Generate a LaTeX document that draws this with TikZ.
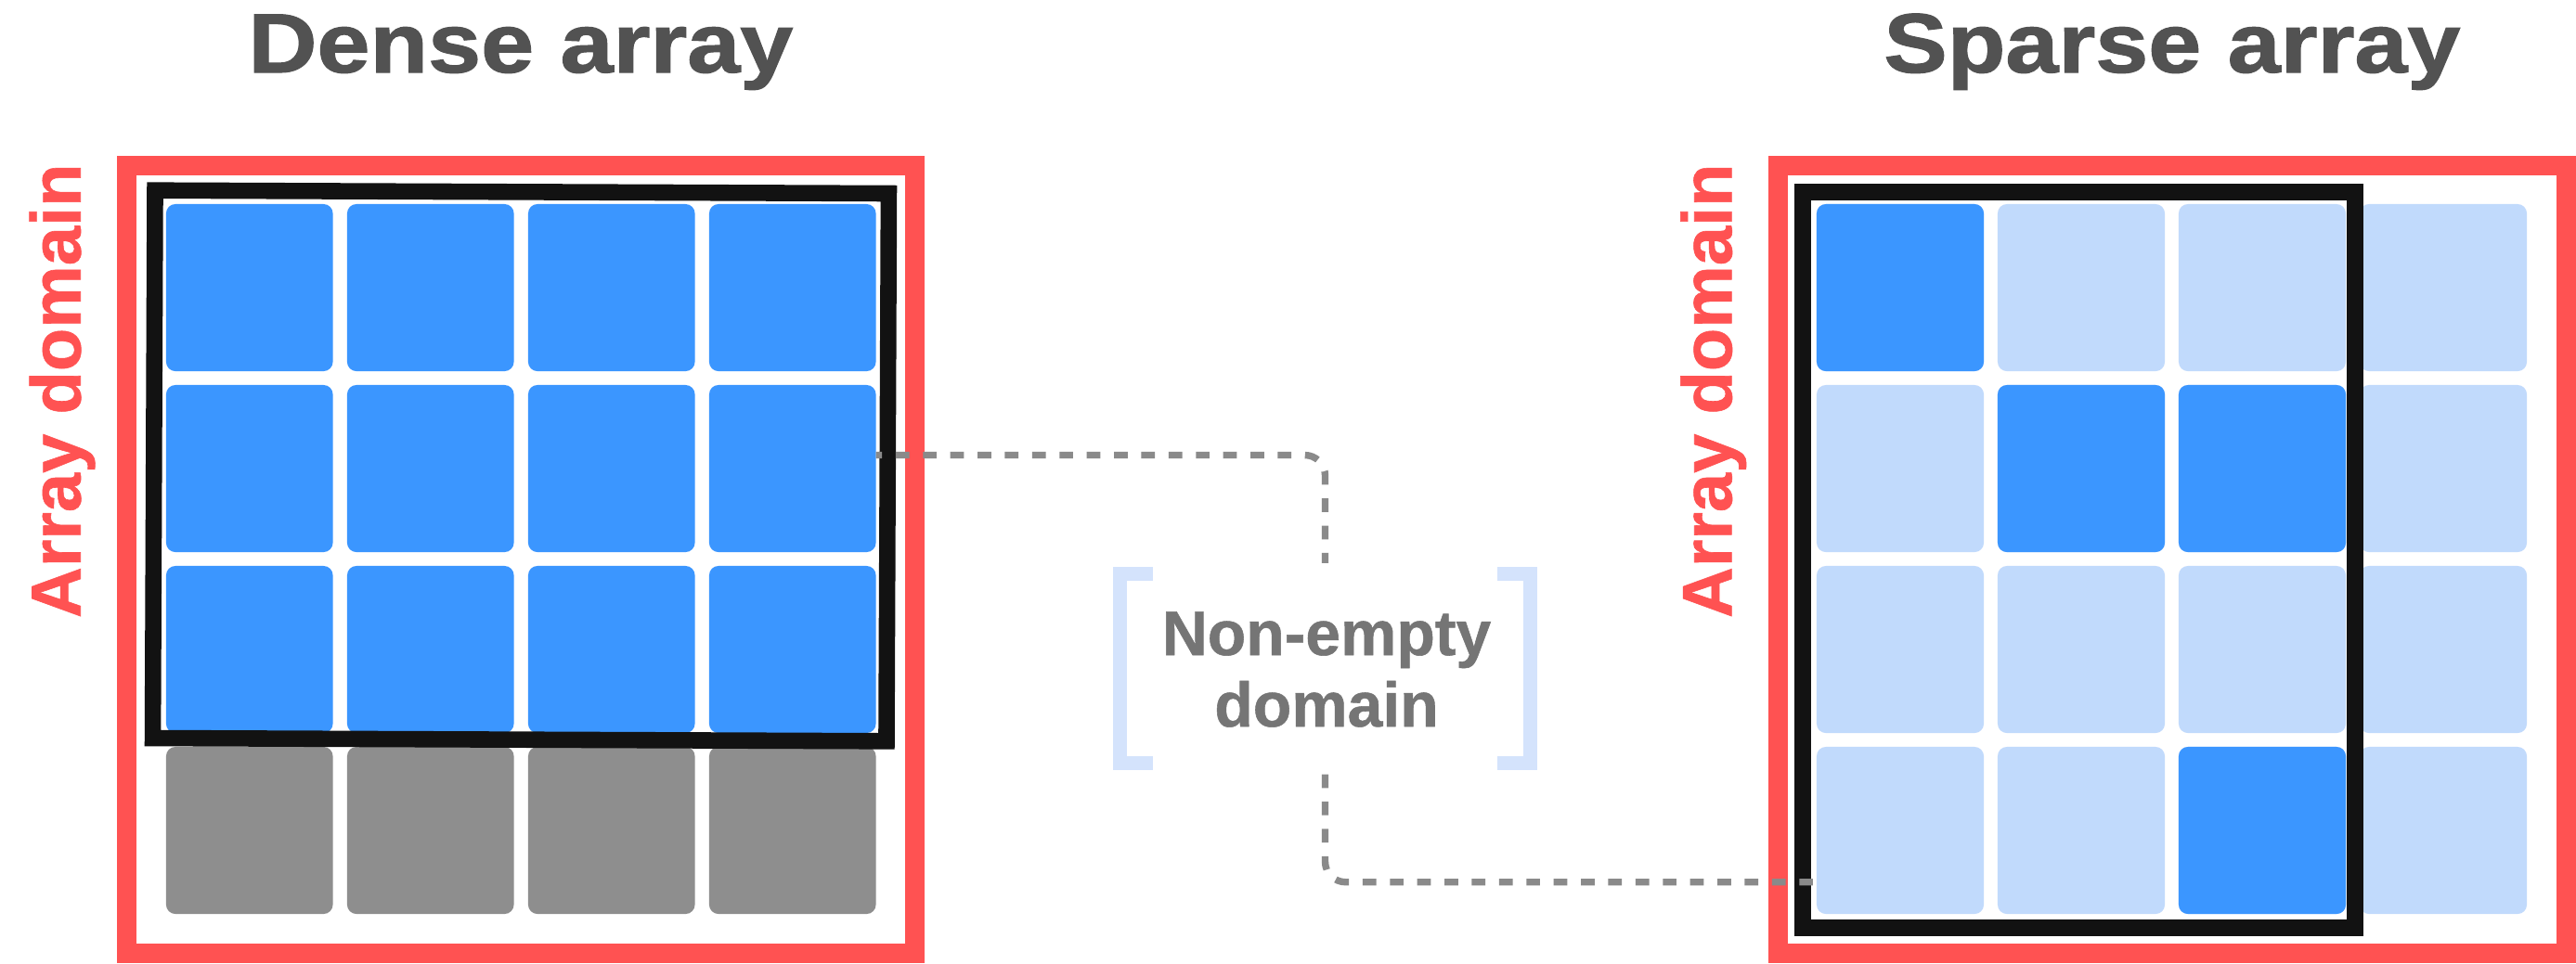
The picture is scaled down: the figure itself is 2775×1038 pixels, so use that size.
\documentclass[tikz,border=0pt]{standalone}
\usepackage{fontspec}
\usepackage{graphicx}
\setmainfont{Liberation Sans}
\newfontfamily\heavyfont[FakeBold=1.2]{Liberation Sans Bold}
\newfontfamily\midfont[FakeBold=0.8]{Liberation Sans Bold}
\usetikzlibrary{calc}
\definecolor{redc}{HTML}{FF5252}
\definecolor{bluec}{HTML}{3B96FF}
\definecolor{lightc}{HTML}{C1DAFC}
\definecolor{grayc}{HTML}{8E8E8E}
\definecolor{framec}{HTML}{121212}
\definecolor{titlec}{HTML}{525252}
\definecolor{labelc}{HTML}{757575}
\definecolor{dashc}{HTML}{8A8A8A}
\definecolor{brackc}{HTML}{D4E3FC}
\begin{document}
\begin{tikzpicture}[x=0.01cm,y=-0.01cm,
  cell/.style={inner sep=0pt, outer sep=0pt, minimum width=1.795cm, minimum height=1.8cm, rounded corners=0.1cm},
  domainbox/.style={draw=redc, line width=5.97pt, inner sep=0pt, outer sep=0pt, minimum width=8.49cm, minimum height=8.49cm},
  nedbox/.style={draw=framec, line width=5pt, inner sep=0pt, outer sep=0pt, miter limit=10},
  titletext/.style={inner sep=0pt, text=titlec, font=\fontsize{25.8pt}{30pt}\heavyfont},
  domtext/.style={inner sep=0pt, text=redc, font=\fontsize{21.6pt}{26pt}\midfont},
  labtext/.style={inner sep=0pt, text=labelc, font=\fontsize{19.3pt}{23pt}\midfont},
  conn/.style={draw=dashc, line width=2.1pt, dash pattern=on 4.18pt off 4.18pt, rounded corners=0.22cm},
  bracket/.style={draw=brackc, line width=4.27pt, miter limit=10}
]
\useasboundingbox (0,0) rectangle (2775,1038);
\fill[white] (0,0) rectangle (2775,1038);

% titles
\node[titletext, anchor=base] (dtitle) at (561,78) {\scalebox{1.13}[1]{Dense array}};
\node[titletext, anchor=base] (stitle) at (2340,78) {\scalebox{1.13}[1]{Sparse array}};

% array domain boxes
\node[domainbox] (dred) at (561,603) {};
\node[domainbox] (sred) at (2340,603) {};

% array domain labels
\node[domtext, rotate=90, anchor=base west] (dlab) at (86.7,666.7) {Array domain};
\node[domtext, rotate=90, anchor=base west] (slab) at (1865.4,666.7) {Array domain};

% dense cells
\foreach \r in {0,1,2,3} {
  \foreach \c in {0,1,2,3} {
    \ifnum\r=3
      \node[cell, fill=grayc] (d\r\c) at ({268.75+195*\c},{310+195*\r}) {};
    \else
      \node[cell, fill=bluec] (d\r\c) at ({268.75+195*\c},{310+195*\r}) {};
    \fi
  }
}

% sparse cells
\foreach \r in {0,1,2,3} {
  \foreach \c in {0,1,2,3} {
    \node[cell, fill=lightc, minimum width=1.8cm] (s\r\c) at ({2047+195*\c},{310+195*\r}) {};
  }
}
\foreach \r/\c in {0/0,1/1,1/2,3/2} {
  \node[cell, fill=bluec, minimum width=1.8cm] at ({2047+195*\c},{310+195*\r}) {};
}

% non-empty domain frames
\node[nedbox, rotate=-0.24, minimum width=7.9cm, minimum height=5.9cm] (dned) at (561,502) {};
\node[nedbox, line width=5.12pt, minimum width=5.95cm, minimum height=7.93cm] (sned) at (2239.5,603.5) {};

% label with brackets
\node[inner sep=0pt, outer sep=0pt, minimum width=4.57cm, minimum height=2.19cm] (ned) at (1427.5,720.5) {};
\node[labtext, anchor=base] (ne1) at (1429,706) {Non-empty};
\node[labtext, anchor=base] (ne2) at (1429,783) {domain};
\draw[bracket] ($(ned.north west)+(43,7.5)$) -- ($(ned.north west)+(7.5,7.5)$) -- ($(ned.south west)+(7.5,-7.5)$) -- ($(ned.south west)+(43,-7.5)$);
\draw[bracket] ($(ned.north east)+(-43,7.5)$) -- ($(ned.north east)+(-7.5,7.5)$) -- ($(ned.south east)+(-7.5,-7.5)$) -- ($(ned.south east)+(-43,-7.5)$);

% connectors
\path (0,490.5) coordinate (ya) (0,950.7) coordinate (yb);
\coordinate (c1) at (d13.east |- ya);
\coordinate (c2) at (s30.west |- yb);
\draw[conn, dash phase=2.3pt, shorten >=0.04cm] (c1) -- (ned.north |- ya) -- (ned.north);
\draw[conn, shorten <=0.045cm] (ned.south) -- (ned.south |- yb) -- (c2);
\end{tikzpicture}
\end{document}
